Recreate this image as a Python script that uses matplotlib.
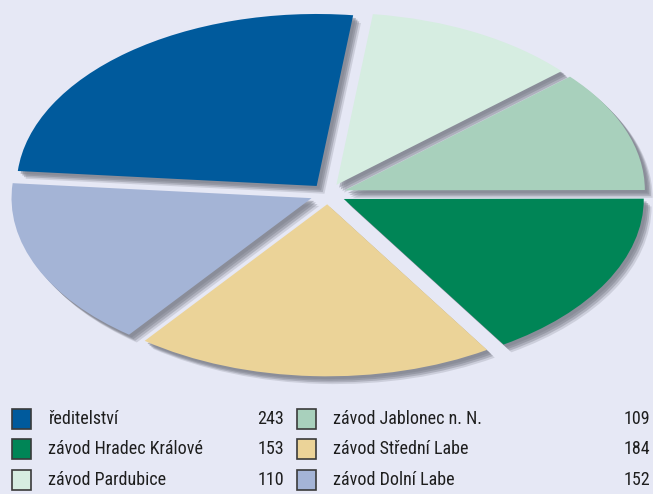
import matplotlib.pyplot as plt
from matplotlib import patheffects
from matplotlib.patches import Rectangle

# data, clockwise from the left
labels = ["ředitelství", "závod Pardubice", "závod Jablonec n. N.",
          "závod Hradec Králové", "závod Střední Labe", "závod Dolní Labe"]
values = [243, 110, 109, 153, 184, 152]
colors = ["#005a9c", "#d6ede1", "#a8d0bc", "#008556", "#ebd398", "#a4b4d6"]

# legend layout order (two columns)
legend_left = [0, 3, 1]
legend_right = [2, 4, 5]

bg = "#e6e8f5"
fig = plt.figure(figsize=(6.53, 4.94), dpi=100)
fig.patch.set_facecolor(bg)
ax = fig.add_axes([0, 0, 1, 1])
ax.set_facecolor(bg)

explode = [0.06] * len(values)
start = 175

# blurred-looking shadow: several offset layers drawn under the wedges
shadow_fx = [
    patheffects.SimplePatchShadow(offset=(2, -2), shadow_rgbFace="#80838f", alpha=0.5),
    patheffects.SimplePatchShadow(offset=(3.2, -3.2), shadow_rgbFace="#80838f", alpha=0.5),
    patheffects.SimplePatchShadow(offset=(4.4, -4.4), shadow_rgbFace="#80838f", alpha=0.4),
    patheffects.SimplePatchShadow(offset=(5.6, -5.6), shadow_rgbFace="#80838f", alpha=0.25),
]
ax.pie(values, explode=explode, startangle=start, counterclock=False,
       colors=colors, wedgeprops=dict(linewidth=0, path_effects=shadow_fx, zorder=1))
wedges, _ = ax.pie(values, explode=explode, startangle=start, counterclock=False,
                   colors=colors, wedgeprops=dict(linewidth=0, zorder=2))

ax.set_aspect("auto")
cx, cy, rx, ry = 328, 194, 300, 172
W, H = 653, 494
ax.set_xlim(-cx / rx, (W - cx) / rx)
ax.set_ylim(-(H - cy) / ry, cy / ry)
ax.axis("off")

font = ["Roboto Condensed", "Roboto", "DejaVu Sans"]
fsize = 13
rows_y = [419, 449, 480]

def legend_item(col_x, val_x, val_ha, idx, y):
    fig.patches.append(Rectangle((col_x / W, 1 - (y + 10) / H), 19 / W, 20 / H,
                                 transform=fig.transFigure, facecolor=colors[idx],
                                 edgecolor="#3a3a3a", linewidth=1.2))
    fig.text((col_x + 36) / W, 1 - y / H, labels[idx], family=font, fontsize=fsize,
             color="#1e1e1e", va="center", ha="left")
    fig.text(val_x / W, 1 - y / H, str(values[idx]), family=font, fontsize=fsize,
             color="#1e1e1e", va="center", ha=val_ha)

for y, idx in zip(rows_y, legend_left):
    legend_item(12, 284, "right", idx, y)
for y, idx in zip(rows_y, legend_right):
    legend_item(297, 624, "left", idx, y)

plt.savefig("out.png", dpi=100, facecolor=bg)
